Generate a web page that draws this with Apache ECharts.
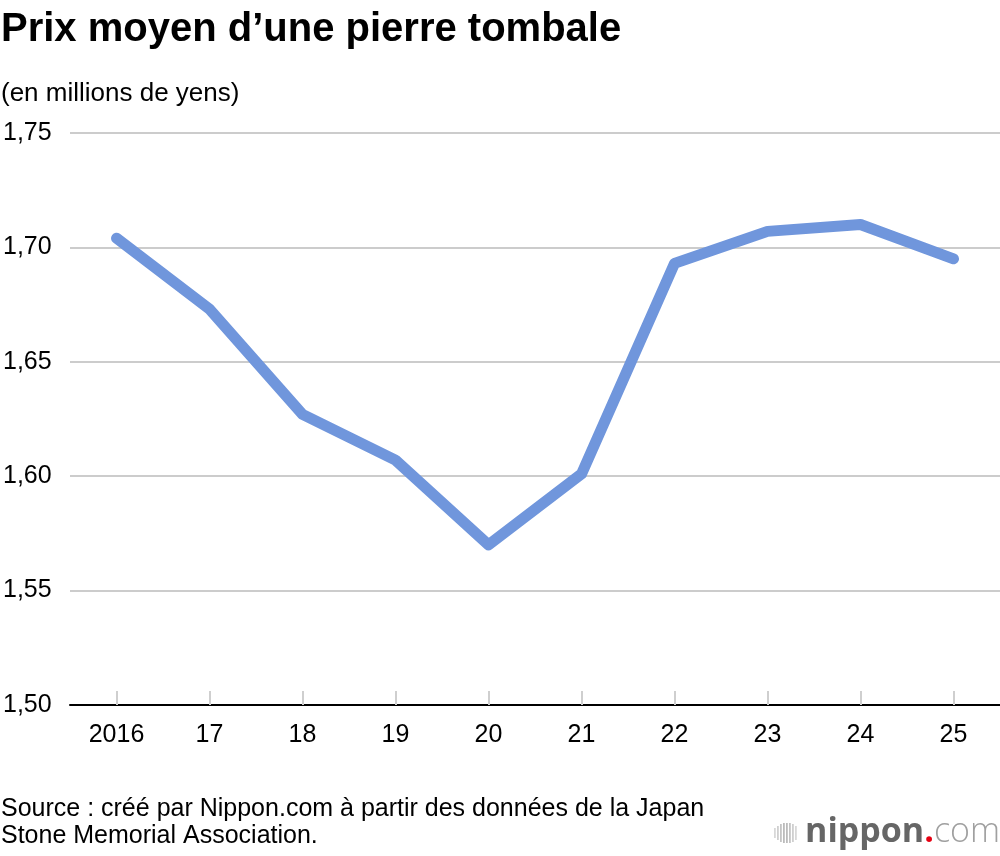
<!DOCTYPE html>
<html><head><meta charset="utf-8">
<script src="https://cdn.jsdelivr.net/npm/echarts@6/dist/echarts.min.js"></script>
<style>html,body{margin:0;padding:0;background:#fff}#c{width:1000px;height:856px}</style>
</head><body><div id="c"></div>
<script>
const categories = ['2016','17','18','19','20','21','22','23','24','25'];
const prices = [1.704, 1.673, 1.627, 1.607, 1.570, 1.601, 1.693, 1.707, 1.710, 1.695];
const yMin = 1.50, yMax = 1.75, yStep = 0.05;

const FONT = '"Liberation Sans", Arial, Helvetica, sans-serif';
const LOGO = '"Open Sans", "Noto Sans", sans-serif';
const chart = echarts.init(document.getElementById('c'), null, {renderer:'canvas'});
const bars = [];
const barH = [10, 14, 18, 20, 20, 20, 18, 14];
const barC = ['#d8d8d8','#cfcfcf','#c4c4c4','#bbbbbb','#bbbbbb','#c4c4c4','#cfcfcf','#d8d8d8'];
barH.forEach((h, i) => {
  bars.push({type:'rect', left: 774 + i*3, top: 833 - h/2, shape:{width:1.8, height:h}, style:{fill:barC[i]}});
});
chart.setOption({
  animation:false,
  backgroundColor:'#fff',
  grid:{left:68, right:0, top:133, bottom:151, containLabel:false},
  title:[
    {text:'Prix moyen d\u2019une pierre tombale', left:1, top:10, padding:0, textStyle:{fontFamily:FONT, fontSize:40, fontWeight:'bold', color:'#000'}},
    {text:'(en millions de yens)', left:1, top:81, padding:0, textStyle:{fontFamily:FONT, fontSize:26, fontWeight:'normal', color:'#000'}},
    {text:'Source : créé par Nippon.com à partir des données de la Japan\nStone Memorial Association.', left:1, top:796, padding:0, textStyle:{fontFamily:FONT, fontSize:25, fontWeight:'normal', color:'#000', lineHeight:27}}
  ],
  graphic:[
    ...bars,
    {type:'text', right:0, top:815, style:{
      text:'{a|nippon}{b|.}{c|com}',
      rich:{
        a:{fontFamily:LOGO, fontSize:34, fontWeight:'bold', fill:'#666', color:'#666'},
        b:{fontFamily:LOGO, fontSize:34, fontWeight:'bold', fill:'#e60012', color:'#e60012'},
        c:{fontFamily:LOGO, fontSize:34, fontWeight:300, fill:'#a0a0a0', color:'#a0a0a0'}
      }
    }}
  ],
  xAxis:{
    type:'category', data:categories, boundaryGap:true,
    axisLine:{show:true, lineStyle:{color:'#000', width:2}},
    axisTick:{show:true, inside:true, alignWithLabel:true, length:14, lineStyle:{color:'#cfcfcf', width:2}},
    axisLabel:{fontFamily:FONT, fontSize:25, color:'#000', margin:18},
    splitLine:{show:false}
  },
  yAxis:{
    type:'value', min:yMin, max:yMax, interval:yStep,
    axisLine:{show:false}, axisTick:{show:false},
    axisLabel:{fontFamily:FONT, fontSize:25, color:'#000', align:'left', margin:67,
      formatter:v => v.toFixed(2).replace('.', ',')},
    splitLine:{show:true, lineStyle:{color:'#cccccc', width:2}}
  },
  series:[{
    type:'line', data:prices, symbol:'none', smooth:false,
    lineStyle:{color:'#7096dc', width:11, cap:'round', join:'round'}
  }]
});
</script></body></html>
